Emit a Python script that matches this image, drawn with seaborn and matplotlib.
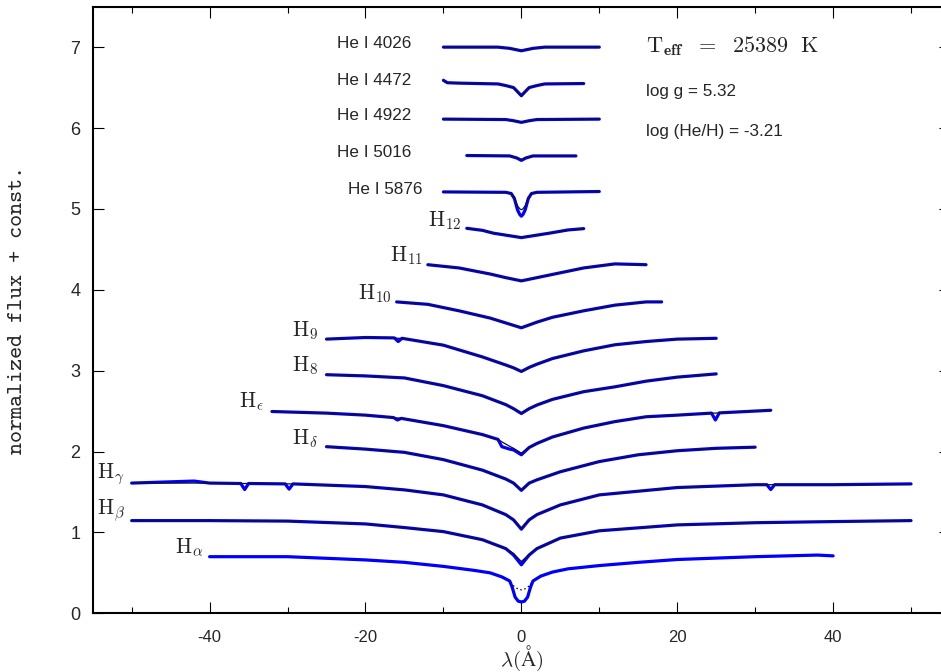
import os
import numpy as np
import pandas as pd
import matplotlib
matplotlib.use("Agg")
import matplotlib.pyplot as plt
import seaborn as sns
from matplotlib.font_manager import FontProperties
from matplotlib.ticker import MultipleLocator

# ---------------- data ----------------
# offsets from line centre (Angstrom), model flux, observed flux (+ const.)
he4026_x = [-10, -3, -1.5, 0, 1.5, 3, 10]
he4026_model = [7.00, 7.00, 6.985, 6.96, 6.985, 7.00, 7.00]
he4026_obs = [7.00, 7.00, 6.985, 6.955, 6.985, 7.00, 7.00]

he4472_x = [-10, -9.5, -8, -3, -2, -1, -0.5, 0, 0.5, 1, 2, 3, 8]
he4472_model = [6.58, 6.56, 6.555, 6.545, 6.525, 6.50, 6.45, 6.39, 6.45, 6.50, 6.525, 6.545, 6.55]
he4472_obs = [6.59, 6.56, 6.555, 6.545, 6.525, 6.50, 6.45, 6.40, 6.45, 6.50, 6.525, 6.545, 6.55]

he4922_x = [-10, -2, -1, 0, 1, 2, 10]
he4922_model = [6.11, 6.105, 6.09, 6.07, 6.09, 6.105, 6.11]
he4922_obs = [6.11, 6.105, 6.09, 6.07, 6.09, 6.105, 6.11]

he5016_x = [-7, -1.5, -0.6, 0, 0.6, 1.5, 7]
he5016_model = [5.66, 5.655, 5.635, 5.61, 5.635, 5.655, 5.655]
he5016_obs = [5.66, 5.655, 5.63, 5.60, 5.63, 5.655, 5.655]

he5876_x = [-10, -2, -1.3, -0.9, -0.5, -0.2, 0, 0.2, 0.5, 0.9, 1.3, 2, 10]
he5876_model = [5.21, 5.205, 5.19, 5.14, 5.04, 5.00, 4.99, 5.00, 5.04, 5.14, 5.19, 5.205, 5.215]
he5876_obs = [5.21, 5.205, 5.19, 5.13, 4.99, 4.93, 4.91, 4.93, 4.99, 5.13, 5.19, 5.205, 5.215]

h12_x = [-7, -5, -3.6, 0, 3.6, 6, 8]
h12_model = [4.756, 4.735, 4.70, 4.65, 4.70, 4.735, 4.756]
h12_obs = [4.76, 4.735, 4.70, 4.645, 4.70, 4.74, 4.756]

h11_x = [-12, -8, -4, -2, 0, 2, 4, 8, 12, 16]
h11_model = [4.31, 4.27, 4.195, 4.15, 4.11, 4.15, 4.19, 4.27, 4.32, 4.31]
h11_obs = [4.31, 4.27, 4.195, 4.15, 4.11, 4.15, 4.19, 4.27, 4.32, 4.31]

h10_x = [-16, -12, -8, -4, -2, 0, 2, 4, 8, 12, 16, 18]
h10_model = [3.85, 3.82, 3.74, 3.65, 3.59, 3.535, 3.60, 3.66, 3.74, 3.81, 3.85, 3.85]
h10_obs = [3.85, 3.82, 3.74, 3.65, 3.59, 3.53, 3.60, 3.66, 3.74, 3.81, 3.85, 3.85]

h9_x = [-25, -20, -16.3, -15.8, -15.3, -10, -5, -2, -1, 0, 1, 2, 4, 8, 12, 16, 20, 25]
h9_model = [3.39, 3.41, 3.405, 3.40, 3.40, 3.315, 3.17, 3.07, 3.035, 2.99, 3.04, 3.08, 3.15, 3.245, 3.32, 3.36, 3.39, 3.40]
h9_obs = [3.39, 3.41, 3.405, 3.36, 3.40, 3.315, 3.17, 3.07, 3.035, 2.99, 3.04, 3.08, 3.15, 3.245, 3.32, 3.36, 3.39, 3.40]

h8_x = [-25, -20, -15, -10, -5, -2, -1, 0, 1, 2, 4, 8, 12, 16, 20, 25]
h8_model = [2.95, 2.935, 2.91, 2.815, 2.69, 2.58, 2.53, 2.475, 2.53, 2.575, 2.645, 2.74, 2.80, 2.87, 2.92, 2.96]
h8_obs = [2.95, 2.935, 2.91, 2.815, 2.69, 2.58, 2.53, 2.47, 2.53, 2.575, 2.645, 2.74, 2.80, 2.87, 2.92, 2.96]

heps_x = [-32, -25, -20, -16.4, -15.9, -15.4, -10, -5, -3, -2.5, -1.5, -1, 0, 1, 2, 4, 8, 12, 16, 20,
          24.4, 24.9, 25.4, 32]
heps_model = [2.495, 2.475, 2.45, 2.42, 2.415, 2.41, 2.32, 2.21, 2.15, 2.12, 2.065, 2.04, 1.98, 2.05,
              2.10, 2.18, 2.29, 2.37, 2.43, 2.45, 2.475, 2.475, 2.478, 2.51]
heps_obs = [2.495, 2.475, 2.45, 2.42, 2.39, 2.41, 2.32, 2.21, 2.15, 2.06, 2.03, 2.02, 1.96, 2.05,
            2.10, 2.18, 2.29, 2.37, 2.43, 2.45, 2.475, 2.39, 2.478, 2.51]

hdelta_x = [-25, -20, -15, -10, -5, -2, -1, 0, 1, 2, 5, 10, 15, 20, 25, 30]
hdelta_model = [2.06, 2.03, 1.99, 1.90, 1.77, 1.66, 1.61, 1.526, 1.61, 1.65, 1.75, 1.876, 1.96, 2.01, 2.04, 2.054]
hdelta_obs = [2.06, 2.03, 1.99, 1.90, 1.77, 1.66, 1.61, 1.52, 1.61, 1.65, 1.75, 1.876, 1.96, 2.01, 2.04, 2.054]

hgamma_x = [-50, -42, -40, -36, -35.5, -35, -30.3, -29.8, -29.3, -20, -15, -10, -5, -2, -1, 0,
            1, 2, 5, 10, 20, 30, 31.5, 32, 32.5, 40, 50]
hgamma_model = [1.61, 1.61, 1.61, 1.605, 1.605, 1.605, 1.60, 1.60, 1.60, 1.567, 1.526, 1.464, 1.34,
                1.22, 1.155, 1.05, 1.155, 1.22, 1.34, 1.464, 1.555, 1.59, 1.59, 1.59, 1.59, 1.59, 1.596]
hgamma_obs = [1.61, 1.635, 1.61, 1.605, 1.53, 1.605, 1.60, 1.535, 1.60, 1.567, 1.526, 1.464, 1.34,
              1.22, 1.155, 1.04, 1.155, 1.22, 1.34, 1.464, 1.555, 1.59, 1.59, 1.53, 1.59, 1.59, 1.60]

hbeta_x = [-50, -40, -30, -20, -15, -10, -5, -2, -1, 0, 1, 2, 5, 10, 20, 30, 40, 50]
hbeta_model = [1.146, 1.146, 1.14, 1.105, 1.06, 1.01, 0.91, 0.80, 0.74, 0.64, 0.73, 0.80, 0.93, 1.02,
               1.093, 1.12, 1.134, 1.146]
hbeta_obs = [1.146, 1.146, 1.14, 1.105, 1.06, 1.01, 0.91, 0.80, 0.72, 0.60, 0.72, 0.80, 0.93, 1.02,
             1.093, 1.12, 1.134, 1.146]

halpha_x = [-40, -30, -20, -15, -10, -6, -4, -2.5, -1.5, -1.2, -0.8, -0.4, 0, 0.4, 0.8, 1.2, 1.5,
            2.5, 4, 6, 10, 15, 20, 30, 38, 40]
halpha_model = [0.70, 0.70, 0.66, 0.63, 0.58, 0.53, 0.50, 0.45, 0.40, 0.36, 0.32, 0.30, 0.29, 0.30,
                0.32, 0.36, 0.40, 0.46, 0.51, 0.55, 0.59, 0.63, 0.665, 0.70, 0.72, 0.71]
halpha_obs = [0.70, 0.70, 0.66, 0.63, 0.58, 0.53, 0.50, 0.45, 0.40, 0.33, 0.20, 0.15, 0.14, 0.15,
              0.20, 0.33, 0.40, 0.46, 0.51, 0.55, 0.59, 0.63, 0.665, 0.70, 0.72, 0.71]

line_names = ["He I 4026", "He I 4472", "He I 4922", "He I 5016", "He I 5876",
              "H12", "H11", "H10", "H9", "H8", "Heps", "Hdelta", "Hgamma", "Hbeta", "Halpha"]
line_x = [he4026_x, he4472_x, he4922_x, he5016_x, he5876_x, h12_x, h11_x, h10_x, h9_x, h8_x,
          heps_x, hdelta_x, hgamma_x, hbeta_x, halpha_x]
line_model = [he4026_model, he4472_model, he4922_model, he5016_model, he5876_model, h12_model,
              h11_model, h10_model, h9_model, h8_model, heps_model, hdelta_model, hgamma_model,
              hbeta_model, halpha_model]
line_obs = [he4026_obs, he4472_obs, he4922_obs, he5016_obs, he5876_obs, h12_obs, h11_obs, h10_obs,
            h9_obs, h8_obs, heps_obs, hdelta_obs, hgamma_obs, hbeta_obs, halpha_obs]

he_labels = ["He I 4026", "He I 4472", "He I 4922", "He I 5016", "He I 5876"]
h_labels = [r"$\mathrm{H}_{12}$", r"$\mathrm{H}_{11}$", r"$\mathrm{H}_{10}$", r"$\mathrm{H}_{9}$",
            r"$\mathrm{H}_{8}$", r"$\mathrm{H}_{\epsilon}$", r"$\mathrm{H}_{\delta}$",
            r"$\mathrm{H}_{\gamma}$", r"$\mathrm{H}_{\beta}$", r"$\mathrm{H}_{\alpha}$"]
teff_text = r"$\mathrm{T}_{\mathbf{eff}}\ \ =\ \ 25389\ \ \mathrm{K}$"
logg_text = "log g = 5.32"
hehe_text = "log (He/H) = -3.21"
xticks_major = [-40, -20, 0, 20, 40]
yticks_major = [0, 1, 2, 3, 4, 5, 6, 7]

# ---------------- layout (label anchors in data coords) ----------------
he_label_pos = [(-23.6, 6.993), (-23.6, 6.538), (-23.6, 6.097), (-23.6, 5.64), (-22.3, 5.186)]
h_label_pos = [(-11.95, 4.785), (-16.85, 4.35), (-20.9, 3.886), (-29.43, 3.43), (-29.43, 2.99),
               (-36.26, 2.537), (-29.43, 2.083), (-54.4, 1.67), (-54.4, 1.217), (-44.45, 0.743)]

# ---------------- build tables ----------------
rows_m, rows_o = [], []
for name, xs, ms, os_ in zip(line_names, line_x, line_model, line_obs):
    for xv, mv, ov in zip(xs, ms, os_):
        rows_m.append((name, xv, mv))
        rows_o.append((name, xv, ov))
model_df = pd.DataFrame(rows_m, columns=["line", "x", "flux"])
obs_df = pd.DataFrame(rows_o, columns=["line", "x", "flux"])

sns.set_style("ticks")
plt.rcParams["font.family"] = ["Liberation Sans", "DejaVu Sans"]
plt.rcParams["mathtext.fontset"] = "cm"
plt.rcParams["axes.unicode_minus"] = False

fig = plt.figure(figsize=(9.41, 6.72), dpi=100)
ax = fig.add_axes([92.7 / 941, 58.7 / 672, 857.3 / 941, 606.6 / 672])

# Halpha model: dotted, underneath the observation
ha_m = model_df[model_df["line"] == "Halpha"]
sns.lineplot(data=ha_m, x="x", y="flux", ax=ax, color="black", lw=1.0, ls=(0, (1, 2)),
             estimator=None, sort=False)
# observed spectra (blue)
sns.lineplot(data=obs_df, x="x", y="flux", units="line", estimator=None, sort=False,
             ax=ax, color="#0000ff", lw=2.3)
# models (black) on top, except Halpha
sns.lineplot(data=model_df[model_df["line"] != "Halpha"], x="x", y="flux", units="line",
             estimator=None, sort=False, ax=ax, color="#101030", lw=0.9)

ax.set_xlim(-55, 55)
ax.set_ylim(0, 7.5)
ax.set_xticks(xticks_major)
ax.xaxis.set_minor_locator(MultipleLocator(10))
ax.set_yticks(yticks_major)
ax.tick_params(which="both", direction="in", top=True, right=True, width=0.8, color="black")
ax.tick_params(which="major", length=8)
ax.tick_params(which="minor", length=4.5)
ax.tick_params(axis="x", which="major", labelsize=12, pad=12)
ax.tick_params(axis="y", which="major", labelsize=13, pad=9)
for sp in ax.spines.values():
    sp.set_linewidth(1.5)
    sp.set_color("black")

tt = FontProperties(fname=os.path.join(matplotlib.get_data_path(), "fonts/ttf/cmtt10.ttf"), size=16.5)
ax.set_ylabel("normalized flux + const.", fontproperties=tt)
ax.yaxis.set_label_coords(-0.0766, 0.5)
ax.set_xlabel(r"$\lambda(\mathrm{\AA})$", fontsize=15)
ax.xaxis.set_label_coords(0.5004, -0.050)

for txt, (lx, ly) in zip(he_labels, he_label_pos):
    ax.text(lx, ly, txt, fontsize=12.3, ha="left", va="baseline")
for txt, (lx, ly) in zip(h_labels, h_label_pos):
    ax.text(lx, ly, txt, fontsize=15.5, ha="left", va="baseline")

ax.text(16.0, 6.94, teff_text, fontsize=16, ha="left", va="baseline")
ax.text(16.0, 6.39, logg_text, fontsize=12.3, ha="left", va="baseline")
ax.text(16.0, 5.90, hehe_text, fontsize=12.3, ha="left", va="baseline")

fig.savefig("out.png", dpi=100)
